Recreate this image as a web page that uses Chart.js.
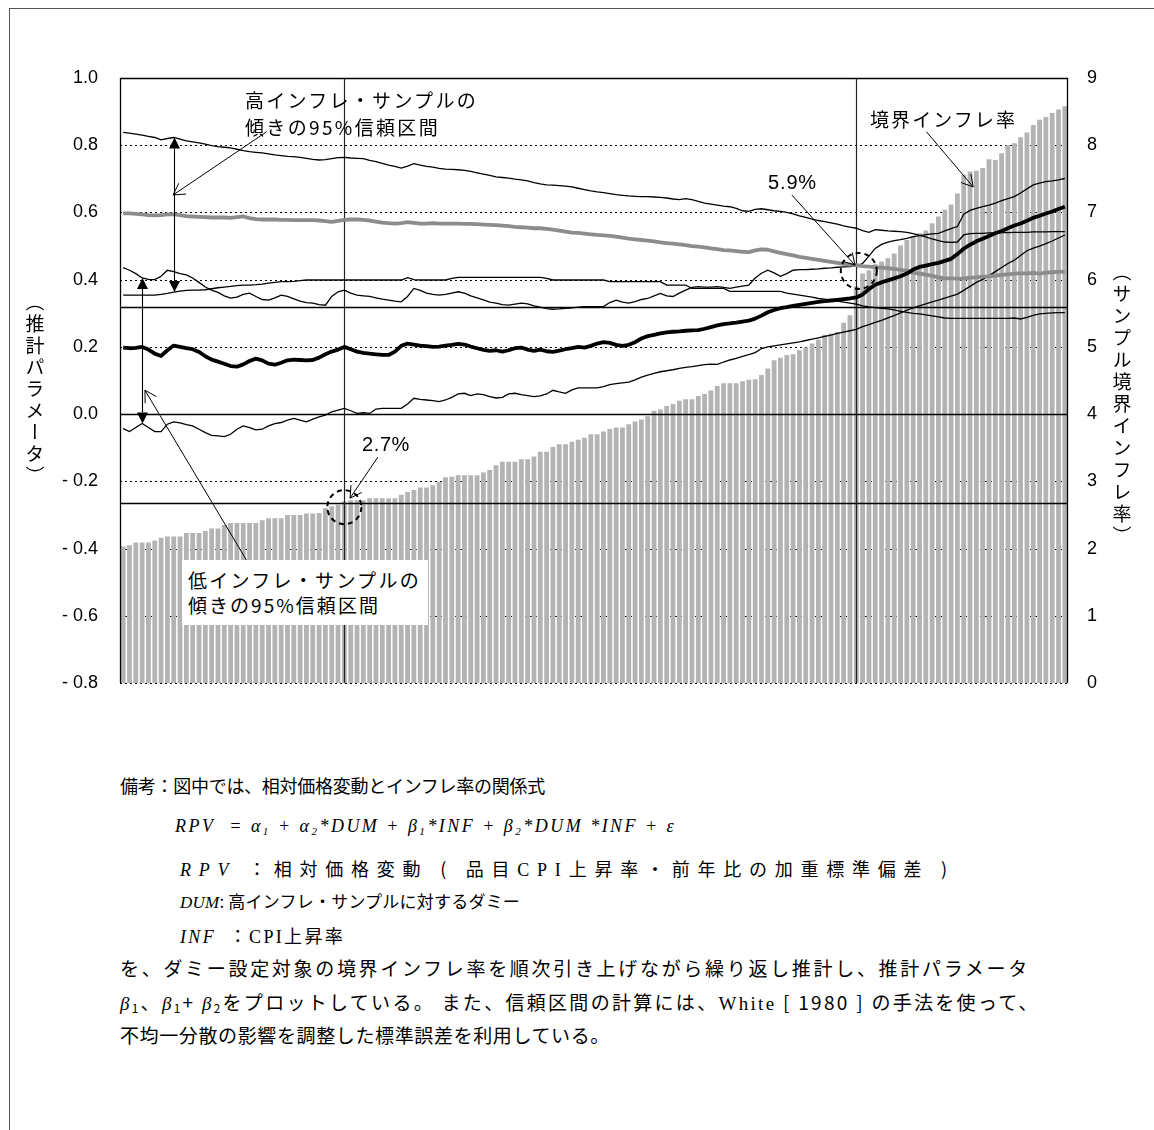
<!DOCTYPE html>
<html lang="ja">
<head>
<meta charset="utf-8">
<script src="https://cdn.jsdelivr.net/npm/chart.js@4.4.1/dist/chart.umd.min.js"></script>
<style>
  html, body { margin: 0; padding: 0; background: #fff; }
  #page { position: relative; width: 1154px; height: 1130px; overflow: hidden;
          font-family: "Noto Sans CJK JP", "Noto Sans", sans-serif; color: #000; }
  #frameTop { position: absolute; left: 9px; top: 8px; width: 1145px; height: 1px; background: #555; }
  #frameLeft { position: absolute; left: 9px; top: 8px; width: 1px; height: 1122px; background: #555; }
  #wrap { position: absolute; left: 0; top: 0; width: 1154px; height: 720px; }
  #wrap canvas { display: block; }
  .lbl { position: absolute; white-space: nowrap; font-size: 19px; line-height: 24px; z-index: 3; }
  .num { font-family: "Liberation Sans", Arial, sans-serif; font-size: 20px; }
  .vt { position: absolute; writing-mode: vertical-rl; font-size: 19px; line-height: 1;
        white-space: nowrap; transform: translate(-50%, -50%); }
  .note { position: absolute; white-space: nowrap; font-size: 18px; line-height: 22px; }
  .big { font-size: 19px; }
  .small { font-size: 17px; }
  .it { font-family: "Liberation Serif", "Times New Roman", serif; font-style: italic; }
  .sf { font-family: "Liberation Serif", "Times New Roman", serif; }
  sub { font-size: 62%; vertical-align: -0.25em; line-height: 0; }
  #loBox { position: absolute; left: 182px; top: 560px; width: 246px; height: 65px; background: #fff; z-index: 2; }
</style>
</head>
<body>
<div id="page">
  <div id="frameTop"></div>
  <div id="frameLeft"></div>
  <div id="wrap"><canvas id="chart" width="1154" height="720"></canvas></div>

  <div class="lbl fit" data-w="233" style="left:245px;top:88px">高インフレ・サンプルの</div>
  <div class="lbl fit" data-w="195" style="left:245px;top:115px">傾きの95%信頼区間</div>

  <div id="loBox"></div>
  <div class="lbl fit" data-w="233" style="left:188px;top:568px">低インフレ・サンプルの</div>
  <div class="lbl fit" data-w="192" style="left:188px;top:593px">傾きの95%信頼区間</div>

  <div class="lbl num fit" data-w="48" style="left:362px;top:432px">2.7%</div>
  <div class="lbl num fit" data-w="49" style="left:768px;top:170px">5.9%</div>
  <div class="lbl fit" data-w="147" style="left:870px;top:107px">境界インフレ率</div>

  <div class="vt fitv" data-h="195" style="left:35px;top:390px">（推計パラメータ）</div>
  <div class="vt fitv" data-h="286" style="left:1122px;top:405px">（サンプル境界インフレ率）</div>

  <div class="note fit" data-w="425" style="left:120px;top:774px">備考：図中では、相対価格変動とインフレ率の関係式</div>
  <div class="note it fit" data-w="501" style="left:175px;top:815px">RPV&nbsp;&nbsp;= α<sub>1</sub> + α<sub>2</sub>*DUM + β<sub>1</sub>*INF + β<sub>2</sub>*DUM *INF + ε</div>
  <div class="note fit" data-w="775" style="left:180px;top:857px"><span class="it">RPV</span> ：相対価格変動 ( 品目<span class="sf">CPI</span>上昇率・前年比の加重標準偏差 )</div>
  <div class="note small fit" data-w="340" style="left:180px;top:890px"><span class="it">DUM</span>: 高インフレ・サンプルに対するダミー</div>
  <div class="note fit" data-w="165" style="left:180px;top:924px"><span class="it">INF</span>&nbsp;&nbsp;：<span class="sf">CPI</span>上昇率</div>
  <div class="note big fit" data-w="910" style="left:120px;top:957px">を、ダミー設定対象の境界インフレ率を順次引き上げながら繰り返し推計し、推計パラメータ</div>
  <div class="note big fit" data-w="920" style="left:120px;top:991px"><span class="it">β</span><sub>1</sub>、<span class="it">β</span><sub>1</sub>+ <span class="it">β</span><sub>2</sub>をプロットしている。 また、信頼区間の計算には、<span class="sf">White</span> [ 1980 ] の手法を使って、</div>
  <div class="note big fit" data-w="490" style="left:120px;top:1024px">不均一分散の影響を調整した標準誤差を利用している。</div>
</div>

<script>
// Boundary inflation rate of each sample split (%, right axis), in ascending order
const boundaryRate = [
  2.03, 2.05, 2.09, 2.09, 2.09, 2.12, 2.16, 2.18, 2.18, 2.18,
  2.23, 2.23, 2.23, 2.26, 2.30, 2.30, 2.35, 2.38, 2.38, 2.38,
  2.38, 2.38, 2.42, 2.45, 2.45, 2.45, 2.50, 2.50, 2.50, 2.52,
  2.52, 2.53, 2.60, 2.63, 2.65, 2.70, 2.72, 2.72, 2.72, 2.75,
  2.75, 2.75, 2.75, 2.75, 2.80, 2.84, 2.87, 2.91, 2.91, 2.94,
  2.99, 3.06, 3.07, 3.09, 3.09, 3.09, 3.09, 3.13, 3.17, 3.24,
  3.29, 3.29, 3.29, 3.33, 3.33, 3.37, 3.44, 3.44, 3.51, 3.55,
  3.55, 3.59, 3.62, 3.65, 3.70, 3.70, 3.74, 3.78, 3.80, 3.80,
  3.85, 3.89, 3.92, 3.97, 4.05, 4.07, 4.12, 4.15, 4.20, 4.22,
  4.22, 4.27, 4.30, 4.35, 4.42, 4.46, 4.46, 4.46, 4.49, 4.51,
  4.52, 4.58, 4.68, 4.80, 4.84, 4.88, 4.89, 4.95, 4.99, 5.05,
  5.11, 5.18, 5.20, 5.22, 5.36, 5.47, 5.90, 6.09, 6.14, 6.23,
  6.27, 6.32, 6.39, 6.51, 6.59, 6.64, 6.69, 6.73, 6.84, 6.94,
  7.04, 7.12, 7.28, 7.56, 7.61, 7.62, 7.66, 7.79, 7.78, 7.88,
  8.00, 8.03, 8.12, 8.19, 8.30, 8.38, 8.42, 8.48, 8.53, 8.58
];

// Slope for the high-inflation sample (beta1 + beta2) and its 95% band
const hiSlope = [
  0.597, 0.597, 0.596, 0.594, 0.592, 0.591, 0.592, 0.594, 0.594, 0.592,
  0.589, 0.588, 0.587, 0.586, 0.585, 0.585, 0.585, 0.584, 0.586, 0.588,
  0.583, 0.580, 0.579, 0.579, 0.579, 0.578, 0.578, 0.577, 0.577, 0.577,
  0.577, 0.576, 0.574, 0.572, 0.575, 0.578, 0.579, 0.579, 0.578, 0.576,
  0.573, 0.570, 0.568, 0.567, 0.568, 0.571, 0.569, 0.567, 0.567, 0.568,
  0.567, 0.567, 0.567, 0.567, 0.566, 0.566, 0.565, 0.564, 0.563, 0.562,
  0.561, 0.559, 0.557, 0.556, 0.555, 0.553, 0.553, 0.551, 0.549, 0.546,
  0.543, 0.540, 0.539, 0.537, 0.535, 0.533, 0.532, 0.530, 0.528, 0.525,
  0.522, 0.520, 0.518, 0.516, 0.514, 0.511, 0.509, 0.507, 0.505, 0.503,
  0.500, 0.498, 0.496, 0.493, 0.491, 0.488, 0.487, 0.485, 0.483, 0.482,
  0.487, 0.490, 0.489, 0.484, 0.480, 0.476, 0.472, 0.468, 0.465, 0.462,
  0.459, 0.456, 0.453, 0.450, 0.447, 0.445, 0.443, 0.440, 0.439, 0.437,
  0.436, 0.434, 0.432, 0.429, 0.426, 0.421, 0.418, 0.415, 0.411, 0.407,
  0.404, 0.404, 0.403, 0.404, 0.406, 0.407, 0.409, 0.410, 0.412, 0.414,
  0.416, 0.418, 0.419, 0.419, 0.420, 0.418, 0.421, 0.422, 0.423, 0.424
];
const hiUpper = [
  0.838, 0.836, 0.833, 0.830, 0.826, 0.823, 0.816, 0.820, 0.823, 0.818,
  0.813, 0.810, 0.807, 0.803, 0.799, 0.796, 0.794, 0.792, 0.788, 0.784,
  0.781, 0.779, 0.777, 0.774, 0.771, 0.769, 0.767, 0.766, 0.764, 0.761,
  0.758, 0.756, 0.757, 0.760, 0.763, 0.764, 0.762, 0.761, 0.760, 0.755,
  0.751, 0.746, 0.741, 0.737, 0.732, 0.738, 0.745, 0.741, 0.737, 0.735,
  0.731, 0.729, 0.728, 0.727, 0.725, 0.722, 0.718, 0.714, 0.710, 0.706,
  0.704, 0.702, 0.699, 0.697, 0.694, 0.689, 0.685, 0.682, 0.681, 0.680,
  0.678, 0.676, 0.672, 0.668, 0.664, 0.661, 0.659, 0.656, 0.653, 0.651,
  0.649, 0.648, 0.647, 0.647, 0.646, 0.645, 0.643, 0.640, 0.638, 0.641,
  0.638, 0.633, 0.628, 0.625, 0.622, 0.619, 0.617, 0.612, 0.605, 0.603,
  0.609, 0.611, 0.608, 0.605, 0.603, 0.600, 0.596, 0.590, 0.585, 0.580,
  0.576, 0.573, 0.569, 0.565, 0.560, 0.556, 0.553, 0.546, 0.541, 0.549,
  0.547, 0.545, 0.544, 0.543, 0.541, 0.537, 0.532, 0.527, 0.521, 0.516,
  0.512, 0.511, 0.512, 0.533, 0.537, 0.538, 0.538, 0.539, 0.539, 0.540,
  0.540, 0.541, 0.541, 0.541, 0.542, 0.542, 0.542, 0.543, 0.543, 0.543
];
const hiLower = [
  0.354, 0.354, 0.354, 0.354, 0.354, 0.354, 0.356, 0.359, 0.363, 0.366,
  0.368, 0.369, 0.369, 0.370, 0.373, 0.376, 0.378, 0.380, 0.382, 0.384,
  0.384, 0.385, 0.387, 0.390, 0.392, 0.394, 0.394, 0.395, 0.397, 0.399,
  0.399, 0.399, 0.399, 0.399, 0.399, 0.399, 0.399, 0.399, 0.399, 0.399,
  0.399, 0.399, 0.399, 0.399, 0.399, 0.406, 0.400, 0.399, 0.399, 0.399,
  0.399, 0.399, 0.404, 0.407, 0.407, 0.407, 0.407, 0.407, 0.407, 0.407,
  0.407, 0.407, 0.407, 0.407, 0.407, 0.407, 0.407, 0.404, 0.399, 0.399,
  0.399, 0.399, 0.399, 0.399, 0.399, 0.399, 0.399, 0.394, 0.394, 0.394,
  0.394, 0.394, 0.394, 0.394, 0.394, 0.394, 0.384, 0.384, 0.384, 0.384,
  0.374, 0.374, 0.374, 0.374, 0.374, 0.374, 0.365, 0.365, 0.365, 0.365,
  0.365, 0.365, 0.365, 0.365, 0.365, 0.360, 0.357, 0.354, 0.351, 0.348,
  0.344, 0.342, 0.339, 0.336, 0.333, 0.330, 0.327, 0.322, 0.319, 0.317,
  0.315, 0.313, 0.310, 0.306, 0.303, 0.300, 0.298, 0.295, 0.292, 0.289,
  0.286, 0.285, 0.285, 0.285, 0.285, 0.285, 0.285, 0.285, 0.285, 0.285,
  0.285, 0.286, 0.283, 0.288, 0.294, 0.298, 0.300, 0.301, 0.302, 0.302
];

// Slope for the low-inflation sample (beta1) and its 95% band
const loSlope = [
  0.198, 0.196, 0.197, 0.200, 0.192, 0.180, 0.173, 0.190, 0.204, 0.200,
  0.196, 0.193, 0.185, 0.172, 0.162, 0.156, 0.150, 0.143, 0.141, 0.148,
  0.158, 0.165, 0.160, 0.150, 0.147, 0.153, 0.160, 0.162, 0.161, 0.160,
  0.161, 0.168, 0.178, 0.186, 0.192, 0.200, 0.193, 0.186, 0.182, 0.180,
  0.178, 0.176, 0.176, 0.186, 0.203, 0.210, 0.207, 0.204, 0.202, 0.200,
  0.201, 0.204, 0.206, 0.209, 0.207, 0.201, 0.196, 0.191, 0.188, 0.190,
  0.186, 0.190, 0.196, 0.198, 0.192, 0.188, 0.192, 0.187, 0.185, 0.189,
  0.193, 0.196, 0.200, 0.198, 0.203, 0.210, 0.214, 0.212, 0.206, 0.203,
  0.206, 0.214, 0.225, 0.232, 0.236, 0.240, 0.243, 0.245, 0.246, 0.248,
  0.249, 0.250, 0.254, 0.259, 0.264, 0.268, 0.270, 0.272, 0.275, 0.278,
  0.284, 0.293, 0.303, 0.310, 0.315, 0.318, 0.322, 0.325, 0.328, 0.331,
  0.334, 0.336, 0.338, 0.340, 0.342, 0.344, 0.347, 0.356, 0.372, 0.385,
  0.392, 0.398, 0.404, 0.410, 0.418, 0.430, 0.438, 0.442, 0.446, 0.450,
  0.456, 0.462, 0.476, 0.492, 0.504, 0.514, 0.522, 0.530, 0.538, 0.545,
  0.553, 0.561, 0.567, 0.575, 0.584, 0.590, 0.597, 0.603, 0.610, 0.617
];
const loUpper = [
  0.436, 0.428, 0.418, 0.405, 0.401, 0.400, 0.410, 0.428, 0.424, 0.418,
  0.414, 0.405, 0.392, 0.378, 0.369, 0.362, 0.352, 0.345, 0.348, 0.356,
  0.360, 0.350, 0.341, 0.339, 0.346, 0.354, 0.350, 0.343, 0.336, 0.332,
  0.330, 0.326, 0.324, 0.350, 0.364, 0.369, 0.360, 0.354, 0.352, 0.350,
  0.346, 0.342, 0.339, 0.336, 0.334, 0.350, 0.374, 0.368, 0.360, 0.356,
  0.354, 0.356, 0.360, 0.364, 0.360, 0.352, 0.346, 0.340, 0.333, 0.330,
  0.326, 0.324, 0.327, 0.330, 0.328, 0.322, 0.318, 0.314, 0.312, 0.313,
  0.315, 0.316, 0.318, 0.320, 0.320, 0.320, 0.320, 0.332, 0.339, 0.333,
  0.330, 0.335, 0.341, 0.344, 0.352, 0.359, 0.352, 0.350, 0.360, 0.369,
  0.377, 0.379, 0.378, 0.378, 0.379, 0.377, 0.374, 0.378, 0.381, 0.384,
  0.405, 0.419, 0.428, 0.420, 0.410, 0.418, 0.428, 0.430, 0.430, 0.431,
  0.432, 0.434, 0.435, 0.437, 0.438, 0.439, 0.441, 0.448, 0.470, 0.493,
  0.505, 0.512, 0.516, 0.519, 0.523, 0.528, 0.531, 0.534, 0.536, 0.538,
  0.545, 0.552, 0.558, 0.595, 0.606, 0.612, 0.617, 0.622, 0.628, 0.635,
  0.641, 0.647, 0.658, 0.670, 0.682, 0.687, 0.692, 0.694, 0.697, 0.701
];
const loLower = [
  -0.043, -0.052, -0.040, -0.028, -0.040, -0.052, -0.052, -0.030, -0.023, -0.026,
  -0.031, -0.035, -0.045, -0.055, -0.063, -0.065, -0.067, -0.060, -0.045, -0.035,
  -0.040, -0.047, -0.045, -0.035, -0.028, -0.025, -0.018, -0.013, -0.018, -0.023,
  -0.015, -0.008, -0.003, 0.007, 0.012, 0.017, 0.010, 0.002, 0.004, 0.002,
  0.015, 0.017, 0.017, 0.017, 0.017, 0.030, 0.047, 0.044, 0.042, 0.040,
  0.037, 0.042, 0.050, 0.060, 0.062, 0.055, 0.060, 0.058, 0.052, 0.048,
  0.050, 0.060, 0.062, 0.058, 0.055, 0.052, 0.054, 0.060, 0.071, 0.066,
  0.062, 0.072, 0.078, 0.078, 0.078, 0.078, 0.082, 0.088, 0.091, 0.093,
  0.095, 0.102, 0.110, 0.116, 0.121, 0.126, 0.129, 0.132, 0.136, 0.139,
  0.141, 0.144, 0.147, 0.149, 0.148, 0.155, 0.161, 0.166, 0.172, 0.177,
  0.183, 0.195, 0.200, 0.203, 0.206, 0.209, 0.212, 0.215, 0.219, 0.223,
  0.227, 0.231, 0.235, 0.240, 0.244, 0.248, 0.252, 0.260, 0.266, 0.273,
  0.279, 0.286, 0.293, 0.301, 0.309, 0.316, 0.322, 0.328, 0.334, 0.339,
  0.345, 0.351, 0.357, 0.368, 0.380, 0.392, 0.401, 0.412, 0.424, 0.436,
  0.448, 0.458, 0.472, 0.486, 0.494, 0.500, 0.507, 0.515, 0.524, 0.533
];

// One category per estimation run
const runLabels = boundaryRate.map((_, i) => String(i + 1));

// Marked runs (boundary 2.7% and 5.9%) and reference levels on the right axis
const markedRuns = [35, 116];
const refLevels = [2.68, 5.59];

// Callouts in data units: i = run index, yL = left axis, yR = right axis
const bandArrows = [
  { i: 8, top: hiUpper[8], bottom: hiLower[8] },
  { i: 3, top: loUpper[3], bottom: loLower[3] }
];
const pointerArrows = [
  { from: { i: 22.7, yL: 0.840 }, to: { i: 7.9, yL: 0.652 } },
  { from: { i: 19.5, yL: -0.434 }, to: { i: 3.45, yL: 0.071 } },
  { from: { i: 40.3, yR: 3.36 }, to: { i: 35.9, yR: 2.75 } },
  { from: { i: 105.8, yL: 0.652 }, to: { i: 115.8, yL: 0.443 } },
  { from: { i: 127.1, yR: 8.20 }, to: { i: 134.5, yR: 7.38 } }
];
const dashedRings = [
  { i: 35, yR: 2.616, r: 17 },
  { i: 116.4, yL: 0.426, r: 18 }
];

function toPx(chart, p) {
  const s = chart.scales;
  return {
    x: s.x.getPixelForValue(p.i),
    y: p.yR !== undefined ? s.yR.getPixelForValue(p.yR) : s.yL.getPixelForValue(p.yL)
  };
}

function openArrow(ctx, a, b) {
  const len = 13, ang = Math.PI / 6;
  ctx.beginPath(); ctx.moveTo(a.x, a.y); ctx.lineTo(b.x, b.y); ctx.stroke();
  const th = Math.atan2(a.y - b.y, a.x - b.x);
  ctx.beginPath();
  ctx.moveTo(b.x + len * Math.cos(th + ang), b.y + len * Math.sin(th + ang));
  ctx.lineTo(b.x, b.y);
  ctx.lineTo(b.x + len * Math.cos(th - ang), b.y + len * Math.sin(th - ang));
  ctx.stroke();
}

function bandArrow(ctx, x, y1, y2) {
  const w = 5.5, h = 11;
  ctx.beginPath(); ctx.moveTo(x, y1 + h); ctx.lineTo(x, y2 - h); ctx.stroke();
  ctx.beginPath(); ctx.moveTo(x, y1); ctx.lineTo(x - w, y1 + h); ctx.lineTo(x + w, y1 + h); ctx.closePath(); ctx.fill();
  ctx.beginPath(); ctx.moveTo(x, y2); ctx.lineTo(x - w, y2 - h); ctx.lineTo(x + w, y2 - h); ctx.closePath(); ctx.fill();
}

const overlay = {
  id: 'overlay',
  beforeDatasetsDraw(chart) {
    // dotted gridlines on the left-axis ticks
    const { ctx, chartArea: a, scales: { yL } } = chart;
    ctx.save();
    ctx.strokeStyle = '#000';
    ctx.lineWidth = 1;
    ctx.setLineDash([2, 3]);
    yL.ticks.forEach(t => {
      if (Math.abs(t.value - yL.max) < 1e-9 || Math.abs(t.value) < 1e-9) return;
      const y = Math.round(yL.getPixelForValue(t.value)) + 0.5;
      ctx.beginPath(); ctx.moveTo(a.left, y); ctx.lineTo(a.right, y); ctx.stroke();
    });
    ctx.restore();
  },
  afterDatasetDraw(chart, args) {
    if (args.meta.type !== 'bar') return;
    // solid reference lines drawn above the bars, below the estimate lines
    const { ctx, chartArea: a, scales: { x, yL, yR } } = chart;
    ctx.save();
    ctx.strokeStyle = '#000';
    ctx.lineWidth = 1.3;
    const hLine = y => { y = Math.round(y) + 0.5; ctx.beginPath(); ctx.moveTo(a.left, y); ctx.lineTo(a.right, y); ctx.stroke(); };
    hLine(yL.getPixelForValue(0));
    refLevels.forEach(v => hLine(yR.getPixelForValue(v)));
    ctx.strokeStyle = '#222';
    ctx.lineWidth = 1.2;
    markedRuns.forEach(i => {
      const px = Math.round(x.getPixelForValue(i)) + 0.5;
      ctx.beginPath(); ctx.moveTo(px, a.top); ctx.lineTo(px, a.bottom); ctx.stroke();
    });
    ctx.restore();
  },
  afterDatasetsDraw(chart) {
    const { ctx, chartArea: a } = chart;
    ctx.save();
    // plot frame (left, top, right)
    ctx.strokeStyle = '#000';
    ctx.lineWidth = 1.3;
    ctx.beginPath();
    ctx.moveTo(a.left + 0.5, a.bottom); ctx.lineTo(a.left + 0.5, a.top + 0.5);
    ctx.lineTo(a.right - 0.5, a.top + 0.5); ctx.lineTo(a.right - 0.5, a.bottom);
    ctx.stroke();

    // confidence band arrows
    ctx.fillStyle = '#000';
    ctx.lineWidth = 1.1;
    bandArrows.forEach(b => {
      const top = toPx(chart, { i: b.i, yL: b.top });
      const bot = toPx(chart, { i: b.i, yL: b.bottom });
      bandArrow(ctx, Math.round(top.x) + 0.5, top.y, bot.y);
    });

    // pointer arrows from the labels
    ctx.lineWidth = 1;
    pointerArrows.forEach(p => openArrow(ctx, toPx(chart, p.from), toPx(chart, p.to)));

    // dashed rings around the marked runs
    ctx.lineWidth = 2;
    ctx.setLineDash([5, 4]);
    dashedRings.forEach(r => {
      const c = toPx(chart, r);
      ctx.beginPath(); ctx.arc(c.x, c.y, r.r, 0, Math.PI * 2); ctx.stroke();
    });
    ctx.restore();
  }
};

function leftTick(v) {
  const r = Math.round(v * 10) / 10;
  if (Math.abs(r) < 1e-9) return '0.0';
  return r < 0 ? '- ' + Math.abs(r).toFixed(1) : r.toFixed(1);
}

const tickFont = { family: '"Liberation Sans", Arial, sans-serif', size: 18 };
const thin = { type: 'line', yAxisID: 'yL', borderColor: '#000', borderWidth: 1.3, pointRadius: 0, tension: 0, order: 3 };

new Chart(document.getElementById('chart'), {
  data: {
    labels: runLabels,
    datasets: [
      { type: 'line', label: '低インフレ・サンプルの傾き', data: loSlope, yAxisID: 'yL', borderColor: '#000',
        borderWidth: 3.8, pointRadius: 0, tension: 0, borderJoinStyle: 'round', order: 1 },
      { type: 'line', label: '高インフレ・サンプルの傾き', data: hiSlope, yAxisID: 'yL', borderColor: '#8c8c8c',
        borderWidth: 3.8, pointRadius: 0, tension: 0, borderJoinStyle: 'round', order: 2 },
      Object.assign({ label: '低インフレ・上限', data: loUpper }, thin),
      Object.assign({ label: '低インフレ・下限', data: loLower }, thin),
      Object.assign({ label: '高インフレ・上限', data: hiUpper }, thin),
      Object.assign({ label: '高インフレ・下限', data: hiLower }, thin),
      { type: 'bar', label: '境界インフレ率', data: boundaryRate, yAxisID: 'yR', backgroundColor: '#b3b3b3',
        borderWidth: 0, barPercentage: 0.76, categoryPercentage: 1.0, order: 10 }
    ]
  },
  options: {
    responsive: false,
    devicePixelRatio: 1,
    animation: false,
    events: [],
    layout: { padding: { top: 78, bottom: 37, left: 0, right: 0 } },
    plugins: { legend: { display: false }, tooltip: { enabled: false } },
    scales: {
      x: { type: 'category', display: false, offset: true, grid: { display: false } },
      yL: {
        type: 'linear', position: 'left', min: -0.8, max: 1.0,
        grid: { display: false, drawTicks: false, tickLength: 0 },
        border: { display: false },
        ticks: { stepSize: 0.2, padding: 22, color: '#000', font: tickFont, callback: leftTick, autoSkip: false },
        afterFit: s => { s.width = 120; }
      },
      yR: {
        type: 'linear', position: 'right', min: 0, max: 9,
        grid: { display: false, drawTicks: false, tickLength: 0 },
        border: { display: false },
        ticks: { stepSize: 1, padding: 19, color: '#000', font: tickFont, autoSkip: false },
        afterFit: s => { s.width = 86; }
      }
    }
  },
  plugins: [overlay]
});

// spread text runs to their set widths / heights
document.querySelectorAll('.fit').forEach(el => {
  const n = [...el.textContent].length;
  el.style.letterSpacing = '0px';
  const w = el.getBoundingClientRect().width;
  el.style.letterSpacing = ((+el.dataset.w - w) / n).toFixed(2) + 'px';
});
document.querySelectorAll('.fitv').forEach(el => {
  const n = [...el.textContent].length;
  el.style.letterSpacing = '0px';
  const h = el.getBoundingClientRect().height;
  el.style.letterSpacing = ((+el.dataset.h - h) / n).toFixed(2) + 'px';
});
</script>
</body>
</html>
